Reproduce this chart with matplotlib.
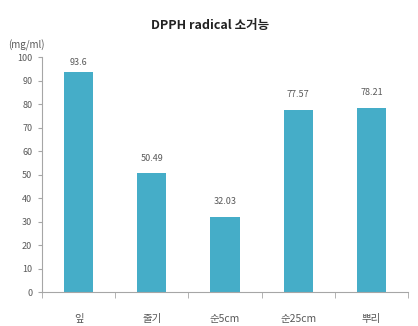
import matplotlib
matplotlib.use("Agg")
import matplotlib.pyplot as plt
import numpy as np

plt.rcParams['font.family'] = ['Noto Sans CJK KR', 'DejaVu Sans']

categories = ['잎', '줄기', '순5cm', '순25cm', '뿌리']
values = [93.6, 50.49, 32.03, 77.57, 78.21]
value_labels = ['93.6', '50.49', '32.03', '77.57', '78.21']
y_ticks = [0, 10, 20, 30, 40, 50, 60, 70, 80, 90, 100]

bar_color = '#45ADC8'
text_color = '#595959'
axis_color = '#A6A6A6'

fig = plt.figure(figsize=(4.18, 3.26), dpi=100)
ax = fig.add_axes([42 / 418, 1 - 292 / 326, 366 / 418, 235 / 326])

x = np.arange(len(categories))
ax.bar(x, values, width=0.4, color=bar_color, zorder=2)

# value labels above each bar, kept below the top of the plot area
for xi, v, lab in zip(x, values, value_labels):
    ax.text(xi, min(v + 6.5, 97.5), lab, ha='center', va='center',
            fontsize=6.5, color=text_color)

ax.set_xlim(-0.5, len(categories) - 0.5)
ax.set_ylim(0, 100)
ax.set_yticks(y_ticks)
ax.set_yticklabels([str(t) for t in y_ticks], fontsize=6.5, color=text_color)

# category labels centered, tick marks on category boundaries
ax.set_xticks(x)
ax.set_xticklabels(categories, fontsize=7.5, color=text_color)
ax.tick_params(axis='x', length=0, pad=16)
ax.set_xticks(np.arange(len(categories) + 1) - 0.5, minor=True)
ax.tick_params(axis='x', which='minor', length=4, color=axis_color, direction='out')
ax.tick_params(axis='y', length=3, color=axis_color, direction='out', pad=4)

for side in ['top', 'right']:
    ax.spines[side].set_visible(False)
for side in ['left', 'bottom']:
    ax.spines[side].set_color(axis_color)
    ax.spines[side].set_linewidth(0.8)

fig.text(210 / 418, 1 - 25 / 326, 'DPPH radical 소거능', ha='center', va='center',
         fontsize=9, fontweight='bold', color='#222222')
fig.text(8 / 418, 1 - 45 / 326, '(mg/ml)', ha='left', va='center',
         fontsize=7, color=text_color)

fig.savefig('out.png', dpi=100)
